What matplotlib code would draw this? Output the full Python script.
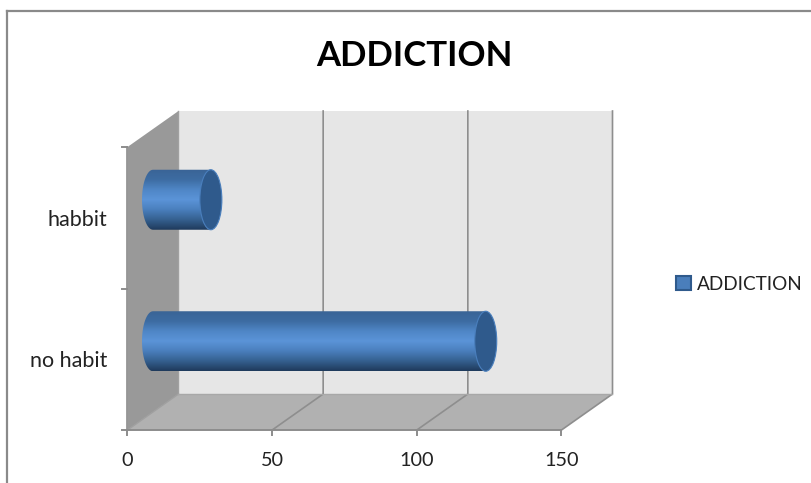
import matplotlib
matplotlib.use('Agg')
import matplotlib.pyplot as plt
import numpy as np
from matplotlib.lines import Line2D
from matplotlib.patches import Ellipse, Patch, PathPatch, Polygon
from matplotlib.path import Path

plt.rcParams['font.family'] = ['Lato', 'DejaVu Sans']

categories = ['no habit', 'habbit']
values = [115, 20]
x_ticks = [0, 50, 100, 150]
series_name = 'ADDICTION'

W, H = 812, 483
fig = plt.figure(figsize=(W / 100, H / 100), dpi=100)

# axes rectangle = front edge of the 3d box, in pixels
left, right, top, bottom = 127.5, 561.5, 147, 430
ax = fig.add_axes([left / W, 1 - bottom / H, (right - left) / W, (bottom - top) / H])
ax.set_xlim(0, 150)
ax.set_ylim(0, 2)
ax.axis('off')

# depth of the box, in data units
px_x = 150 / (right - left)
px_y = 2 / (bottom - top)
dx = 51 * px_x
dy = 36 * px_y

# walls
ax.add_patch(Polygon([(dx, dy), (150 + dx, dy), (150 + dx, 2 + dy), (dx, 2 + dy)],
                     fc='#e6e6e6', ec='none', clip_on=False, zorder=1))
ax.add_patch(Polygon([(0, 0), (150, 0), (150 + dx, dy), (dx, dy)],
                     fc='#b1b1b1', ec='none', clip_on=False, zorder=1))
side = ax.add_patch(Polygon([(0, 0), (dx, dy), (dx, 2 + dy), (0, 2)],
                            fc='#999999', ec='none', clip_on=False, zorder=1))

# grid lines run along the floor then up the back wall
grid_c = '#8e8e8e'
for t in x_ticks[1:]:
    ax.plot([t, t + dx, t + dx], [0, dy, 2 + dy], color=grid_c, lw=1.2, clip_on=False, zorder=2)
ax.plot([dx, dx], [dy, 2 + dy], color='#a0a0a0', lw=1.0, clip_on=False, zorder=2)
ax.plot([0, dx], [0, dy], color='#a0a0a0', lw=1.0, clip_on=False, zorder=2)
ax.plot([dx, 150 + dx], [dy, dy], color='#a8a8a8', lw=1.0, clip_on=False, zorder=2)

# axis lines and tick marks
axis_c = '#8c8c8c'
ax.plot([0, 150], [0, 0], color=axis_c, lw=1.4, clip_on=False, zorder=3)
ax.plot([0, 0], [0, 2], color=axis_c, lw=1.2, clip_on=False, zorder=3)
for t in x_ticks:
    ax.plot([t, t], [0, -5 * px_y], color=axis_c, lw=1.4, clip_on=False, zorder=3)
    ax.text(t, -36 * px_y, str(t), ha='center', va='baseline', fontsize=14.3, color='#222222', clip_on=False)
for t in range(3):
    ax.plot([-5 * px_x, 0], [t, t], color=axis_c, lw=1.4, clip_on=False, zorder=3)

# cylinders
half_h = 30 * px_y
half_w = 11 * px_x
x0 = dx / 2
bar_cmap = matplotlib.colors.LinearSegmentedColormap.from_list(
    'cyl', ['#1f3a5c', '#35608f', '#4a7fbd', '#5b94d8', '#4f86c6', '#3d6ca2', '#3a6496'])
grad_data = np.linspace(0, 1, 128).reshape(-1, 1)

for i, (name, val) in enumerate(zip(categories, values)):
    yc = i + 0.5 + dy / 2
    x1 = x0 + val
    t = np.linspace(np.pi / 2, 3 * np.pi / 2, 40)
    verts = [(x1, yc + half_h)]
    verts += list(zip(x0 + half_w * np.cos(t), yc + half_h * np.sin(t)))
    verts += [(x1, yc - half_h), (x1, yc + half_h)]
    body = PathPatch(Path(verts), fc='none', ec='none', clip_on=False, zorder=4)
    ax.add_patch(body)
    im = ax.imshow(grad_data, cmap=bar_cmap, extent=(x0 - half_w, x1, yc - half_h, yc + half_h),
                   origin='lower', aspect='auto', zorder=4, clip_on=True)
    im.set_clip_path(body)
    ax.add_patch(Ellipse((x1, yc), 2 * half_w, 2 * half_h, fc='#2f5a8c', ec='#4a7fbd', lw=0.8,
                         clip_on=False, zorder=5))
    ax.text(-20.5 * px_x, i + 0.5 - 2 * px_y, name, ha='right', va='center', fontsize=15.5, color='#222222')

ax.set_xlim(0, 150)
ax.set_ylim(0, 2)

fig.text(414.5 / W, 1 - 56 / H, series_name, ha='center', va='center', fontsize=25,
         fontweight='bold', color='black')

handle = Patch(fc='#4a7ebb', ec='#2f5a8c', lw=1.5, label=series_name)
fig.legend(handles=[handle], loc='center left', bbox_to_anchor=(676 / W, 1 - 284 / H), frameon=False,
           fontsize=13.7, handlelength=0.78, handleheight=0.78, handletextpad=0.3, borderpad=0,
           borderaxespad=0, labelcolor='#222222')

# chart area frame: only left and top edges show
fig.add_artist(Line2D([7 / W, 7 / W], [0, 1 - 11 / H], color='#8a8a8a', lw=1.6, transform=fig.transFigure))
fig.add_artist(Line2D([7 / W, 1], [1 - 11 / H, 1 - 11 / H], color='#8a8a8a', lw=1.6, transform=fig.transFigure))

fig.savefig('out.png', dpi=100, facecolor='white')
